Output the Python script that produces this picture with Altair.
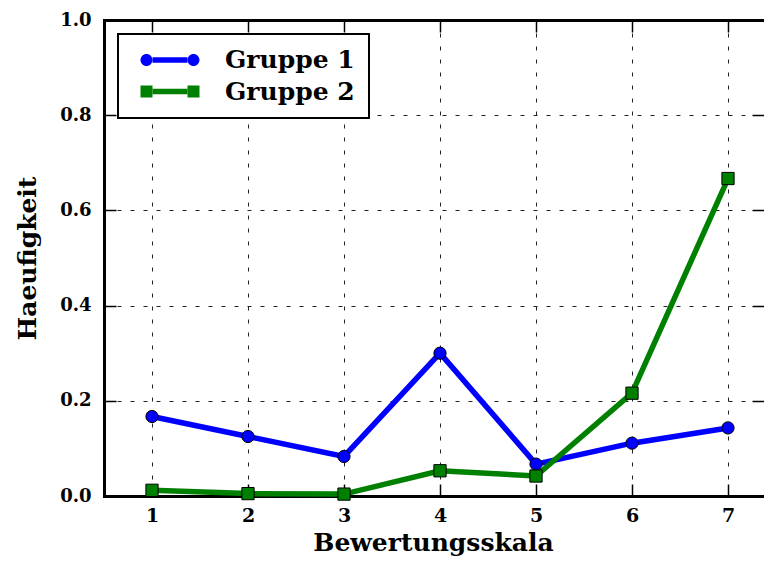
import altair as alt
import pandas as pd

# ---- data ----
scale_x = [1, 2, 3, 4, 5, 6, 7]
gruppe1 = [0.167, 0.125, 0.083, 0.300, 0.067, 0.111, 0.143]
gruppe2 = [0.012, 0.005, 0.004, 0.053, 0.042, 0.216, 0.667]
groups = ["Gruppe 1", "Gruppe 2"]
colors = ["#0000ff", "#008000"]
y_ticks = [0.0, 0.2, 0.4, 0.6, 0.8, 1.0]

rows = []
for g, vals in zip(groups, [gruppe1, gruppe2]):
    for xv, yv in zip(scale_x, vals):
        rows.append({"x": xv, "y": yv, "g": g})
df = pd.DataFrame(rows)

W, H = 660, 476
FONT = "DejaVu Serif"

xs = alt.Scale(domain=[0.5, 7.375], nice=False, zero=False)
ys = alt.Scale(domain=[0, 1], nice=False, zero=False)

grid_kw = dict(grid=True, gridColor="#222222", gridDash=[4, 9], gridWidth=1, gridOpacity=1)
main_kw = dict(ticks=False, tickSize=0, domainColor="black", domainWidth=3, domainCap="square",
               labelFont=FONT, labelFontWeight="bold", labelColor="black", labelFlush=False,
               titleFont=FONT, titleFontSize=25, titleFontWeight="bold", titleColor="black")

x_main = alt.Axis(values=scale_x, title="Bewertungsskala", labelFontSize=19, labelPadding=10,
                  titleX=329, titleY=54, titleBaseline="alphabetic", titleAlign="center",
                  **grid_kw, **main_kw)
y_main = alt.Axis(values=y_ticks, format=".1f", title="Haeufigkeit", labelFontSize=18, labelPadding=13,
                  titleAngle=270, titleX=-69, titleY=238, titleBaseline="alphabetic", titleAlign="center",
                  **grid_kw, **main_kw)


def tick_axis(orient, offset, vals, domain=False):
    return alt.Axis(orient=orient, offset=offset, values=vals, labels=False, grid=False,
                    domain=domain, domainColor="black", domainWidth=3, domainCap="square",
                    ticks=True, tickSize=12, tickWidth=1.5, tickColor="black", title=None)


line_path = "M 1 0 L 6.833 0"
circ_path = ("M -1 0 A 1 1 0 1 1 1 0 A 1 1 0 1 1 -1 0 Z "
             "M 6.833 0 A 1 1 0 1 1 8.833 0 A 1 1 0 1 1 6.833 0 Z")
sq_path = "M -1 -1 L 1 -1 L 1 1 L -1 1 Z M 6.833 -1 L 8.833 -1 L 8.833 1 L 6.833 1 Z"

leg_common = dict(orient="none", legendX=14, legendY=14, title=None, direction="vertical",
                  labelFont=FONT, labelFontSize=25, labelFontWeight="bold", labelLimit=400,
                  symbolSize=144, symbolOffset=2.5, labelOffset=66, padding=13.5, rowPadding=5.5)

legend_a = alt.Legend(symbolType=line_path, symbolStrokeWidth=5.5, labelColor="black",
                      strokeColor="black", fillColor="white", cornerRadius=0, **leg_common)
legend_b = alt.Legend(symbolStrokeColor="black", symbolStrokeWidth=1, symbolOpacity=1,
                      labelOpacity=0, **leg_common)

base = alt.Chart(df)

lines = base.mark_line(strokeWidth=5.5).encode(
    x=alt.X("x:Q", scale=xs, axis=x_main),
    y=alt.Y("y:Q", scale=ys, axis=y_main),
    color=alt.Color("g:N", scale=alt.Scale(range=colors), legend=legend_a),
)

points = base.mark_point(filled=True, size=150, opacity=1, stroke="black", strokeWidth=1).encode(
    x=alt.X("x:Q", scale=xs, axis=tick_axis("top", -H, scale_x)),
    y=alt.Y("y:Q", scale=ys, axis=tick_axis("right", -W, y_ticks)),
    fill=alt.Fill("g:N", scale=alt.Scale(range=colors), legend=None),
    shape=alt.Shape("g:N", scale=alt.Scale(range=["circle", "square"]), legend=None),
)

legend_layer = base.transform_filter("false").mark_point(
    filled=True, size=144, opacity=1, stroke="black", strokeWidth=1
).encode(
    x=alt.X("x:Q", scale=xs, axis=tick_axis("bottom", -H, scale_x, domain=True)),
    y=alt.Y("y:Q", scale=ys, axis=tick_axis("left", -W, y_ticks)),
    fill=alt.Fill("g:N", scale=alt.Scale(domain=groups, range=colors), legend=legend_b),
    shape=alt.Shape("g:N", scale=alt.Scale(domain=groups, range=[circ_path, sq_path]), legend=legend_b),
)

chart = alt.layer(lines, points, legend_layer).resolve_scale(
    shape="independent", fill="independent"
).resolve_axis(
    x="independent", y="independent"
).properties(
    width=W, height=H,
    padding={"left": 96, "top": 12, "right": 0, "bottom": 61},
    autosize=alt.AutoSizeParams(type="none"),
).configure_view(stroke=None).configure_legend(strokeWidth=2)

chart.save("out.html", embed_options={"renderer": "svg", "actions": False})
